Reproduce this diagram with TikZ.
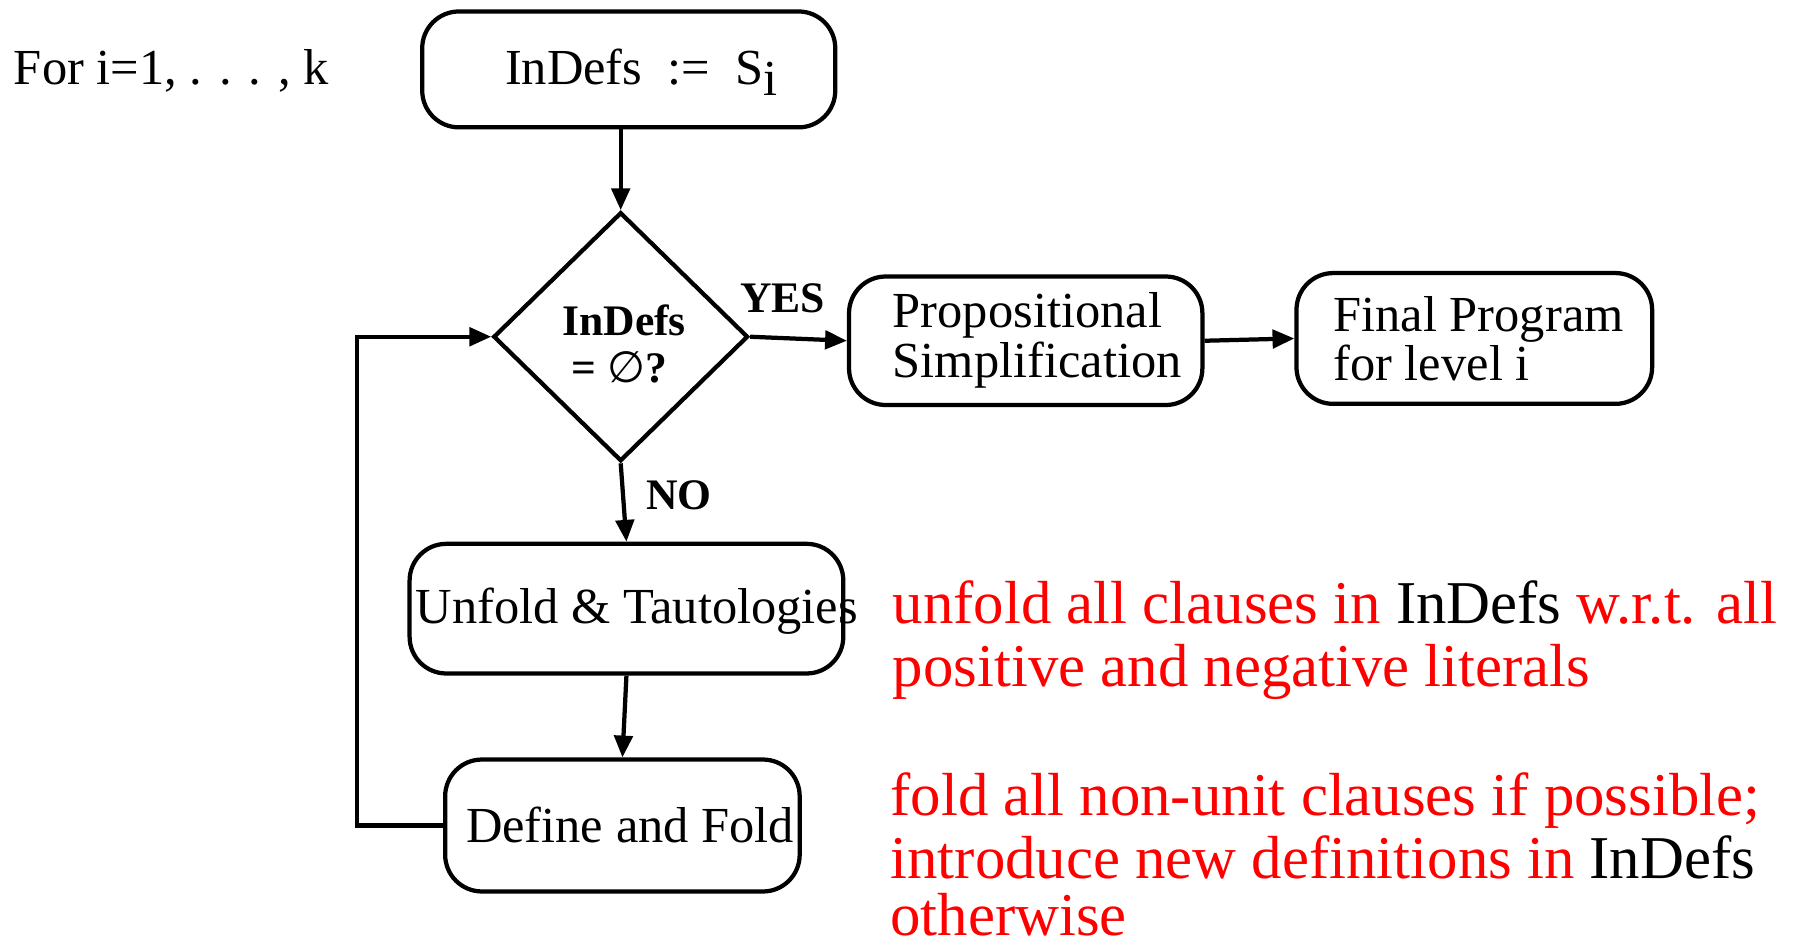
\documentclass[tikz,border=0pt]{standalone}
\usepackage{fontspec}
\setmainfont{Liberation Serif}
\newfontfamily\symfont{DejaVu Sans}
\usetikzlibrary{arrows.meta,shapes.geometric}
\begin{document}
\begin{tikzpicture}[x=1pt,y=-1pt,
  box/.style={draw,line width=3.7pt,rounded corners=32pt,inner sep=0pt},
  conn/.style={line width=3.7pt,-{Triangle[length=19pt,width=16pt]}},
  txt/.style={anchor=base west,inner sep=0pt,font=\fontsize{44}{44}\selectfont},
  btxt/.style={anchor=base west,inner sep=0pt,font=\fontsize{38}{38}\selectfont\bfseries},
  red/.style={anchor=base west,inner sep=0pt,text=red,font=\fontsize{53}{55}\selectfont},
]
\useasboundingbox (0,0) rectangle (1568,824);
\definecolor{red}{RGB}{255,0,0}
% boxes
\node[box,minimum width=360pt,minimum height=101pt] (top) at (548,60.5) {};
\node[draw,line width=3.7pt,diamond,inner sep=0pt,minimum width=222pt,minimum height=217pt] (dia) at (541,293.5) {};
\node[box,minimum width=308pt,minimum height=112pt] (prop) at (894,297) {};
\node[box,minimum width=310pt,minimum height=114pt] (final) at (1285,295) {};
\node[box,minimum width=378pt,minimum height=113pt] (unfold) at (546,530.5) {};
\node[box,minimum width=309pt,minimum height=115pt] (define) at (542.5,719.5) {};
% texts
\node[txt,font=\fontsize{44}{44}\selectfont] (fortxt) at (12,74) {For i=1, . . . , k};
\node[txt] (toptxt) at (440,74) {InDefs\ \ :=\ \ S\raisebox{-9pt}{i}};
\node[btxt] (diat1) at (490,292) {InDefs};
\node[btxt] (diat2) at (498,333) {= {\symfont\mdseries ∅}?};
\node[btxt] (yes) at (645,272) {YES};
\node[btxt] (no) at (563,444) {NO};
\node[txt,align=left,font=\fontsize{44}{43}\selectfont,anchor=north west] (proptxt) at (778,255) {Propositional\\Simplification};
\node[txt,align=left,font=\fontsize{44}{43}\selectfont,anchor=north west] (finaltxt) at (1162,258) {Final Program\\for level i};
\node[txt] (unfoldtxt) at (362,543) {Unfold \& Tautologies};
\node[txt] (definetxt) at (406,734) {Define and Fold};
\node[red] (r1) at (778,543) {unfold all clauses in \textcolor{black}{InDefs} w.r.t. all};
\node[red] (r2) at (778,598) {positive and negative literals};
\node[red] (r3) at (776,711) {fold all non-unit clauses if possible;};
\node[red] (r4) at (776,766) {introduce new definitions in \textcolor{black}{InDefs}};
\node[red] (r5) at (776,815) {otherwise};
% connectors
\draw[conn] (dia.north |- top.south) -- (dia.north);
\draw[conn] (dia.east) -- (prop.west);
\draw[conn] (prop.east) -- (final.west);
\draw[conn] (dia.south) -- (unfold.north);
\draw[conn] (unfold.south) -- (define.north);
\draw[conn] (define.west) -- ++(-75,0) |- (dia.west);
\end{tikzpicture}
\end{document}
